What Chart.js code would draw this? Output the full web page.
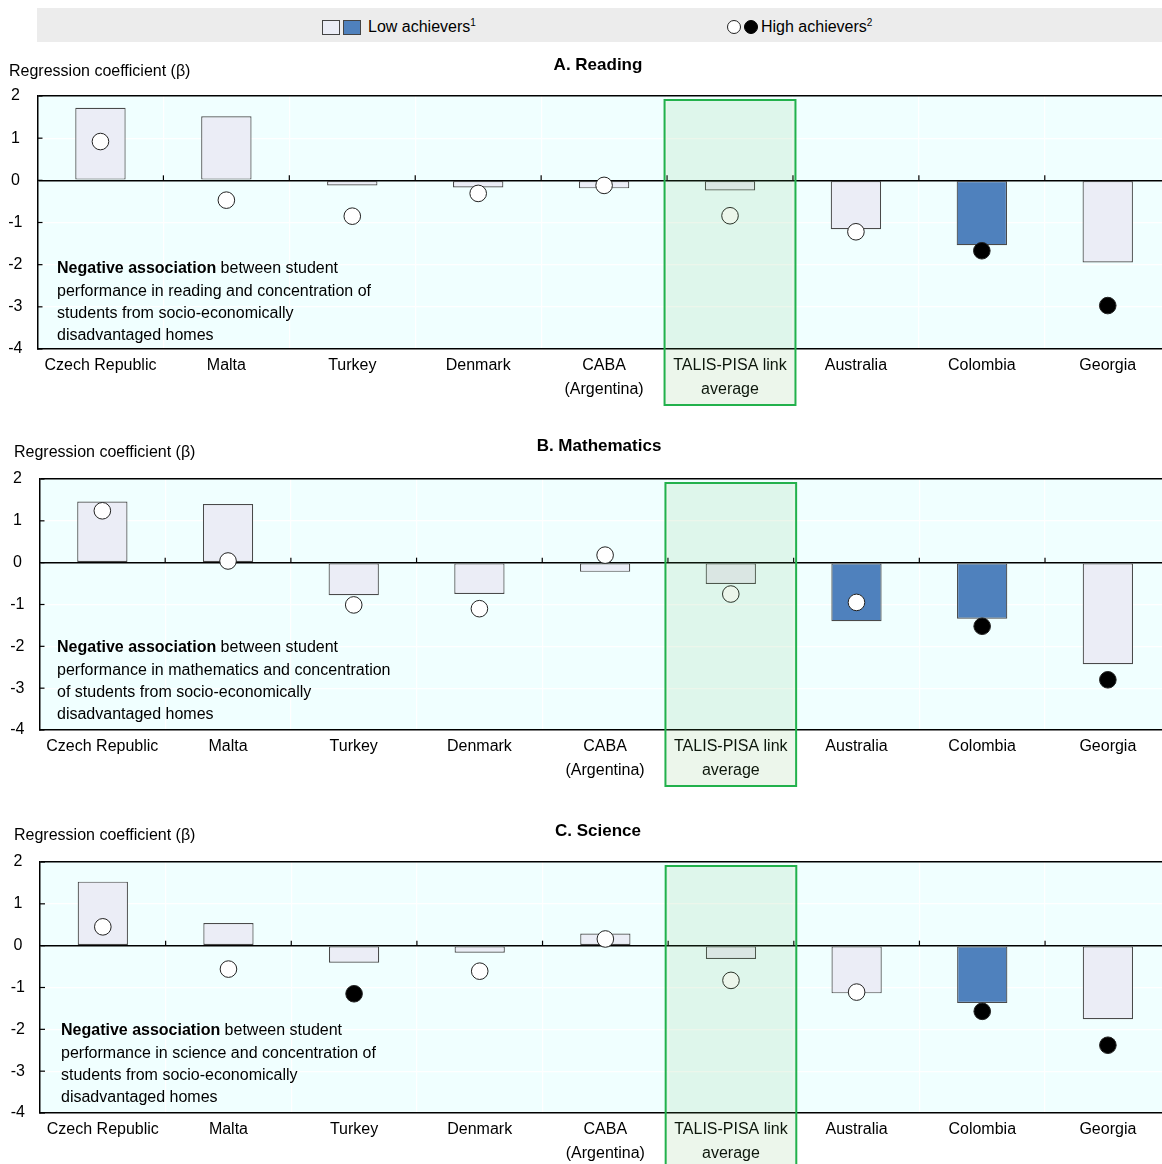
<!DOCTYPE html>
<html>
<head>
<meta charset="utf-8">
<script src="https://cdn.jsdelivr.net/npm/chart.js@4.4.1/dist/chart.umd.min.js"></script>
<style>
  html, body { margin: 0; padding: 0; background: #fff; overflow: hidden; width: 1162px; height: 1164px; }
  body { position: relative; font-family: "Liberation Sans", Arial, sans-serif; }
  #legend { position: absolute; left: 37px; top: 8px; width: 1125px; height: 34px; background: #ececec; font-size: 16px; color: #000; }
  #legend .item { position: absolute; top: 2px; height: 34px; display: flex; align-items: center; }
  #legend .sq { width: 16px; height: 13px; border: 1px solid #444; margin-right: 3px; box-sizing: content-box; }
  #legend .dot { width: 12px; height: 12px; border: 1px solid #222; border-radius: 50%; margin-right: 3px; }
  #legend sup { font-size: 10px; vertical-align: 6px; line-height: 0; }
  .panel { position: absolute; left: 0; width: 1180px; height: 370px; }
  .panel canvas { display: block; }
</style>
</head>
<body>
<div id="legend">
  <div class="item" style="left:285px;">
    <span class="sq" style="background:#ebedf6;"></span>
    <span class="sq" style="background:#4f81bd;margin-right:7px;"></span>
    <span>Low achievers<sup>1</sup></span>
  </div>
  <div class="item" style="left:690px;">
    <span class="dot" style="background:#fff;"></span>
    <span class="dot" style="background:#000;border-color:#000;"></span>
    <span>High achievers<sup>2</sup></span>
  </div>
</div>
<div class="panel" style="top:44px;"><canvas id="chartA" width="1180" height="370"></canvas></div>
<div class="panel" style="top:425px;"><canvas id="chartB" width="1180" height="370"></canvas></div>
<div class="panel" style="top:808px;"><canvas id="chartC" width="1180" height="370"></canvas></div>

<script>
// Participating systems, ordered as in the figure
const categories = ['Czech Republic', 'Malta', 'Turkey', 'Denmark', ['CABA', '(Argentina)'],
  ['TALIS-PISA link', 'average'], 'Australia', 'Colombia', 'Georgia'];
const averageIndex = 5;

const yTicks = [2, 1, 0, -1, -2, -3, -4];

// Regression coefficients (β), low achievers (bars) and high achievers (markers)
const readingLow = [1.72, 1.52, -0.12, -0.17, -0.19, -0.24, -1.16, -1.54, -1.95];
const readingHigh = [0.92, -0.47, -0.85, -0.31, -0.12, -0.84, -1.22, -1.67, -2.97];
const readingLowSig = [0, 0, 0, 0, 0, 0, 0, 1, 0];
const readingHighSig = [0, 0, 0, 0, 0, 0, 0, 1, 1];

const mathLow = [1.46, 1.40, -0.78, -0.75, -0.22, -0.51, -1.40, -1.34, -2.43];
const mathHigh = [1.24, 0.04, -1.01, -1.10, 0.18, -0.75, -0.95, -1.52, -2.80];
const mathLowSig = [0, 0, 0, 0, 0, 0, 1, 1, 0];
const mathHighSig = [0, 0, 0, 0, 0, 0, 0, 1, 1];

const scienceLow = [1.53, 0.54, -0.41, -0.17, 0.29, -0.32, -1.14, -1.37, -1.76];
const scienceHigh = [0.45, -0.56, -1.15, -0.61, 0.16, -0.83, -1.11, -1.57, -2.38];
const scienceLowSig = [0, 0, 0, 0, 0, 0, 0, 1, 0];
const scienceHighSig = [0, 0, 1, 0, 0, 0, 0, 1, 1];

const FONT = '"Liberation Sans", Arial, sans-serif';
const BAR_LIGHT = '#ebedf6';
const BAR_BLUE = '#4f81bd';
const PLOT_BG = '#f0ffff';
const CAT_WIDTH = 125.6;
const CANVAS_W = 1180;

function panelPlugin(p) {
  return {
    id: 'panelDecor' + p.id,
    beforeDraw(chart) {
      const { ctx, chartArea: a } = chart;
      ctx.save();
      ctx.fillStyle = PLOT_BG;
      ctx.fillRect(a.left, a.top, a.right - a.left, a.bottom - a.top);
      ctx.restore();
    },
    afterDatasetsDraw(chart) {
      const { ctx, chartArea: a, scales: { x, y } } = chart;
      ctx.save();
      // short marks on the zero line between categories
      const y0 = y.getPixelForValue(0);
      ctx.strokeStyle = '#000';
      ctx.lineWidth = 1.2;
      for (let i = 0; i < categories.length - 1; i++) {
        const bx = (x.getPixelForValue(i) + x.getPixelForValue(i + 1)) / 2;
        ctx.beginPath();
        ctx.moveTo(bx, y0);
        ctx.lineTo(bx, y0 - 5);
        ctx.stroke();
      }
      // inner ticks on the value axis
      yTicks.forEach(v => {
        const ty = y.getPixelForValue(v);
        ctx.beginPath();
        ctx.moveTo(a.left, ty);
        ctx.lineTo(a.left + 5, ty);
        ctx.stroke();
      });
      // highlighted average column
      const cx = x.getPixelForValue(averageIndex);
      const half = (x.getPixelForValue(1) - x.getPixelForValue(0)) / 2;
      const bx0 = cx - half - 2.5, bx1 = cx + half + 2.5;
      const by0 = a.top + 4, by1 = a.bottom + 56;
      ctx.fillStyle = 'rgba(100,180,90,0.12)';
      ctx.fillRect(bx0, by0, bx1 - bx0, by1 - by0);
      ctx.strokeStyle = '#22b14c';
      ctx.lineWidth = 2;
      ctx.strokeRect(bx0, by0, bx1 - bx0, by1 - by0);

      // panel title and value-axis title
      ctx.fillStyle = '#000';
      ctx.textBaseline = 'middle';
      ctx.font = 'bold 17px ' + FONT;
      ctx.textAlign = 'center';
      ctx.fillText(p.title, p.titleX, p.titleY);
      ctx.font = '16px ' + FONT;
      ctx.textAlign = 'left';
      ctx.fillText('Regression coefficient (β)', p.axisTitleX, p.axisTitleY);

      // note inside the plot
      let ly = p.noteY;
      p.note.forEach((line, i) => {
        let lx = p.noteX;
        if (i === 0) {
          ctx.font = 'bold 16px ' + FONT;
          ctx.fillText(line[0], lx, ly);
          lx += ctx.measureText(line[0]).width;
          ctx.font = '16px ' + FONT;
          ctx.fillText(line[1], lx, ly);
        } else {
          ctx.font = '16px ' + FONT;
          ctx.fillText(line, lx, ly);
        }
        ly += 22.2;
      });
      ctx.restore();
    }
  };
}

function buildPanel(p) {
  const canvasH = 370;
  const plotTopRel = p.plotTop - p.canvasTop;
  const plotBottomRel = p.plotBottom - p.canvasTop;
  const xAxisH = 60;
  const right = CANVAS_W - (p.left + CAT_WIDTH * categories.length) - 3.5;
  new Chart(document.getElementById(p.canvas), {
    data: {
      labels: categories,
      datasets: [
        {
          type: 'line',
          label: 'High achievers',
          data: p.high,
          showLine: false,
          pointRadius: 8.3,
          pointHoverRadius: 8.3,
          pointBorderWidth: 1,
          pointBorderColor: '#222',
          pointBackgroundColor: p.highSig.map(s => s ? '#000' : '#fff'),
          order: 0
        },
        {
          type: 'bar',
          label: 'Low achievers',
          data: p.low,
          backgroundColor: p.lowSig.map(s => s ? BAR_BLUE : BAR_LIGHT),
          borderColor: '#4a4a4a',
          borderWidth: 1.2,
          borderSkipped: false,
          barPercentage: 0.4,
          categoryPercentage: 1,
          order: 1
        }
      ]
    },
    options: {
      responsive: false,
      animation: false,
      events: [],
      layout: { padding: { top: plotTopRel, bottom: canvasH - plotBottomRel - xAxisH, left: 0, right: right } },
      plugins: { legend: { display: false }, tooltip: { enabled: false } },
      scales: {
        x: {
          offset: true,
          afterFit(s) { s.height = xAxisH; },
          grid: { offset: true, color: 'rgba(255,255,255,1)', lineWidth: 1.2, drawTicks: false },
          border: { display: true, color: '#000', width: 1.5 },
          ticks: { color: '#000', font: { family: FONT, size: 16, lineHeight: 1.5 }, padding: 5, maxRotation: 0, autoSkip: false }
        },
        y: {
          min: -4, max: 2,
          afterFit(s) { s.width = p.left; },
          afterBuildTicks(s) { s.ticks = yTicks.map(v => ({ value: v })); },
          grid: {
            color: c => (c.tick && (c.tick.value === 0 || c.tick.value === 2)) ? '#000' : 'rgba(255,255,255,1)',
            lineWidth: c => (c.tick && (c.tick.value === 0 || c.tick.value === 2)) ? 1.5 : 1.2,
            drawTicks: false
          },
          border: { display: true, color: '#000', width: 1.5 },
          ticks: { color: '#000', font: { family: FONT, size: 16 }, padding: 15, crossAlign: 'center' }
        }
      }
    },
    plugins: [panelPlugin(p)]
  });
}

const notePrefix = ['Negative association', ' between student'];

buildPanel({
  id: 'A', canvas: 'chartA', canvasTop: 44, plotTop: 96, plotBottom: 349, left: 37.5,
  low: readingLow, high: readingHigh, lowSig: readingLowSig, highSig: readingHighSig,
  title: 'A. Reading', titleX: 598, titleY: 65 - 44, axisTitleX: 9, axisTitleY: 72 - 44,
  noteX: 57, noteY: 269 - 44,
  note: [notePrefix, 'performance in reading and concentration of', 'students from socio-economically', 'disadvantaged homes']
});
buildPanel({
  id: 'B', canvas: 'chartB', canvasTop: 425, plotTop: 479, plotBottom: 730, left: 39.5,
  low: mathLow, high: mathHigh, lowSig: mathLowSig, highSig: mathHighSig,
  title: 'B. Mathematics', titleX: 599, titleY: 446 - 425, axisTitleX: 14, axisTitleY: 453 - 425,
  noteX: 57, noteY: 648 - 425,
  note: [notePrefix, 'performance in mathematics and concentration', 'of students from socio-economically', 'disadvantaged homes']
});
buildPanel({
  id: 'C', canvas: 'chartC', canvasTop: 808, plotTop: 862, plotBottom: 1113, left: 40,
  low: scienceLow, high: scienceHigh, lowSig: scienceLowSig, highSig: scienceHighSig,
  title: 'C. Science', titleX: 598, titleY: 831 - 808, axisTitleX: 14, axisTitleY: 836 - 808,
  noteX: 61, noteY: 1031 - 808,
  note: [notePrefix, 'performance in science and concentration of', 'students from socio-economically', 'disadvantaged homes']
});
</script>
</body>
</html>
